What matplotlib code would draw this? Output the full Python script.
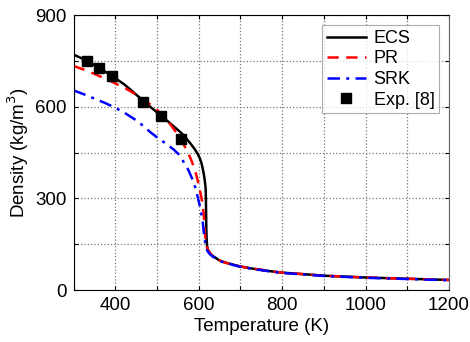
import matplotlib
matplotlib.use("Agg")
import matplotlib.pyplot as plt
from matplotlib.ticker import MultipleLocator, FuncFormatter

plt.rcParams['font.family'] = ['Liberation Sans', 'DejaVu Sans']

# ECS curve
ecs_T = [300, 315, 331, 346, 361, 376, 391, 405, 420, 435, 450, 465, 478, 490, 500, 510, 523,
         540, 557, 567, 580, 590, 597, 602, 606, 609, 612, 614, 615.5, 616.5, 617, 617.5,
         618, 619, 620, 622, 627, 633, 640, 647, 655, 663, 675, 688, 700, 725, 750, 775,
         800, 850, 900, 950, 1000, 1050, 1100, 1150, 1200]
ecs_rho = [771, 762, 751, 740, 728, 715, 702, 689, 675, 658, 640, 622, 607, 593, 582, 571, 556,
           536, 516, 502, 480, 462, 447, 433, 418, 400, 380, 362, 345, 330, 300, 250,
           200, 160, 143, 132, 120, 112, 106, 99, 94, 90, 86, 81, 77, 71, 66, 61,
           57, 52, 47, 44, 41, 39, 37, 35, 33]

# PR curve
pr_T = [300, 325, 350, 375, 400, 425, 450, 475, 500, 510, 520, 535, 550, 563, 575, 583, 591,
        596, 601, 605, 609, 611, 613, 614, 615, 617, 619, 622, 627, 633, 640, 647, 655, 663,
        675, 688, 700, 725, 750, 775, 800, 850, 900, 950, 1000, 1050, 1100, 1150, 1200]
pr_rho = [734, 722, 708, 693, 677, 660, 640, 617, 590, 577, 563, 537, 508, 479, 448, 422, 393,
          366, 338, 311, 284, 256, 229, 202, 178, 157, 143, 131, 120, 112, 106, 99, 94, 90,
          86, 81, 77, 71, 66, 61, 57, 52, 47, 44, 41, 39, 37, 35, 33]

# SRK curve
srk_T = [300, 325, 350, 375, 400, 425, 450, 470, 483, 500, 523, 540, 551, 563, 575, 584, 591,
         596, 601, 605, 609, 611, 613, 616, 619, 622, 627, 633, 640, 647, 655, 663, 675, 688,
         700, 725, 750, 775, 800, 850, 900, 950, 1000, 1050, 1100, 1150, 1200]
srk_rho = [654, 641, 627, 613, 597, 578, 556, 534, 518, 500, 478, 460, 446, 421, 393, 365, 338,
           312, 284, 256, 229, 202, 175, 150, 133, 125, 117, 110, 104, 98, 93, 89, 85, 80,
           76, 70, 65, 60, 56, 51, 46, 43, 40, 38, 36, 34, 32]

# Experimental data
exp_T = [331, 361, 391, 465, 510, 557]
exp_rho = [751, 727, 700, 616, 571, 495]

fig = plt.figure(figsize=(4.70, 3.42), dpi=100)
ax = fig.add_axes([0.157, 0.152, 0.798, 0.803])

ax.plot(ecs_T, ecs_rho, color='black', lw=1.8, label='ECS')
ax.plot(pr_T, pr_rho, color='red', lw=1.8, ls=(0, (4.5, 3)), label='PR')
ax.plot(srk_T, srk_rho, color='blue', lw=1.8, ls=(0, (5, 2.5, 1.2, 2.5)), label='SRK')
ax.plot(exp_T, exp_rho, ls='none', marker='s', ms=7, color='black', label='Exp. [8]')

ax.set_xlim(300, 1200)
ax.set_ylim(0, 900)
ax.xaxis.set_major_locator(MultipleLocator(100))
ax.yaxis.set_major_locator(MultipleLocator(150))
ax.xaxis.set_major_formatter(FuncFormatter(lambda v, p: f"{int(v)}" if int(round(v)) % 200 == 0 else ""))
ax.yaxis.set_major_formatter(FuncFormatter(lambda v, p: f"{int(v)}" if int(round(v)) % 300 == 0 else ""))
ax.tick_params(direction='in', length=3, width=0.8, labelsize=13.5, top=True, right=True, pad=5)
ax.grid(True, ls=':', color='#777777', lw=0.9)

ax.spines['right'].set_color('#666666')

ax.set_xlabel('Temperature (K)', fontsize=13.5, labelpad=3)
ax.set_ylabel('Density (kg/m$^3$)', fontsize=13.5, labelpad=3)

leg = ax.legend(loc='upper right', fontsize=13, frameon=True, fancybox=False,
                edgecolor='#999999', handlelength=2.2, handletextpad=0.4,
                borderpad=0.25, labelspacing=0.2, borderaxespad=0.55)
leg.get_frame().set_linewidth(0.8)

fig.savefig('out.png', dpi=100)
